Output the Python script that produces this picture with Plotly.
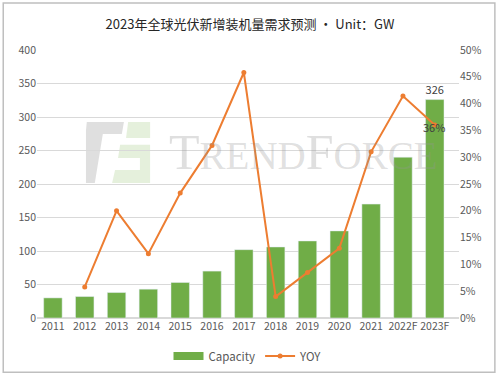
import plotly.graph_objects as go

years = ["2011", "2012", "2013", "2014", "2015", "2016", "2017", "2018", "2019", "2020", "2021", "2022F", "2023F"]
capacity = [30, 32, 38, 43, 53, 70, 102, 106, 115, 130, 170, 240, 326]
yoy_years = ["2012", "2013", "2014", "2015", "2016", "2017", "2018", "2019", "2020", "2021", "2022F", "2023F"]
yoy = [5.8, 20.0, 12.0, 23.3, 32.2, 45.8, 4.0, 8.5, 13.0, 31.0, 41.4, 36.0]
left_ticks = [0, 50, 100, 150, 200, 250, 300, 350, 400]
right_ticks = [0, 5, 10, 15, 20, 25, 30, 35, 40, 45, 50]

GREEN = "#70AD47"
ORANGE = "#ED7D31"
TXT = "#595959"
FONT = "Noto Sans CJK SC, Noto Sans, sans-serif"

fig = go.Figure()

# watermark (drawn below data)
fig.add_shape(type="path", xref="paper", yref="paper", layer="below",
              path="M 0.118 0.731 L 0.206 0.731 L 0.201 0.687 L 0.156 0.687 L 0.137 0.504 L 0.116 0.504 L 0.116 0.70 Z",
              fillcolor="rgba(140,140,140,0.28)", line_width=0)
fig.add_shape(type="path", xref="paper", yref="paper", layer="below",
              path="M 0.216 0.731 L 0.268 0.731 L 0.268 0.672 L 0.211 0.672 Z",
              fillcolor="rgba(170,205,140,0.3)", line_width=0)
fig.add_shape(type="path", xref="paper", yref="paper", layer="below",
              path="M 0.197 0.646 L 0.268 0.646 L 0.268 0.504 L 0.178 0.504 L 0.185 0.552 L 0.244 0.552 L 0.244 0.597 L 0.192 0.597 Z",
              fillcolor="rgba(170,205,140,0.3)", line_width=0)
fig.add_annotation(xref="paper", yref="paper", x=0.308, y=0.62, xanchor="left", yanchor="middle",
                   text="T<span style='font-size:39px'>REND</span>F<span style='font-size:39px'>ORCE</span>",
                   showarrow=False,
                   font=dict(size=50, color="rgba(150,150,150,0.3)", family="Liberation Serif, DejaVu Serif, serif"))

fig.add_trace(go.Bar(
    x=years, y=capacity, name="Capacity", marker_color=GREEN, width=0.58, showlegend=False,
    text=["" for _ in capacity[:-1]] + [str(capacity[-1])], textposition="outside",
    textfont=dict(size=11, color="#404040"), cliponaxis=False,
))
# legend entry for the bars (wide swatch like the reference)
fig.add_trace(go.Scatter(
    x=[None], y=[None], name="Capacity", mode="lines",
    line=dict(color=GREEN, width=8),
))
fig.add_trace(go.Scatter(
    x=yoy_years, y=yoy, name="YOY", mode="lines+markers", yaxis="y2",
    line=dict(color=ORANGE, width=2), marker=dict(size=5, color=ORANGE),
))
fig.add_annotation(x=yoy_years[-1], y=yoy[-1], yref="y2", text=f"{yoy[-1]:.0f}%",
                   showarrow=False, yshift=-2, xshift=-1,
                   font=dict(size=11, color="#404040", family=FONT))

# outer border
fig.add_shape(type="rect", xref="paper", yref="paper", x0=-0.08, x1=1.085, y0=-0.202, y1=1.175,
              line=dict(color="#BFBFBF", width=1.5), fillcolor="rgba(0,0,0,0)")

fig.update_layout(
    width=500, height=376, autosize=False,
    margin=dict(l=37, r=41, t=50, b=58, autoexpand=False),
    paper_bgcolor="white", plot_bgcolor="white",
    title=dict(text="2023年全球光伏新增装机量需求预测 · Unit：GW", x=0.5, xanchor="center",
               yref="container", y=0.935, yanchor="middle",
               font=dict(size=13, color="#262626", family=FONT)),
    font=dict(family=FONT, size=11, color=TXT),
    xaxis=dict(type="category", categoryarray=years, showgrid=False, showline=False, ticks="",
               tickangle=0, automargin=False, tickfont=dict(size=10.5, color=TXT)),
    yaxis=dict(range=[0, 400], tickvals=left_ticks, showgrid=True, gridcolor="#D9D9D9", gridwidth=1,
               zeroline=True, zerolinecolor="#D9D9D9", showline=False, ticks="", automargin=False,
               tickfont=dict(size=10.5, color=TXT)),
    yaxis2=dict(range=[0, 50], tickvals=right_ticks, ticktext=[f"{v}%" for v in right_ticks],
                overlaying="y", side="right", showgrid=False, zeroline=False, showline=False,
                automargin=False, tickfont=dict(size=10.5, color=TXT)),
    legend=dict(orientation="h", x=0.5, xanchor="center", yref="container", y=0.053, yanchor="middle",
                font=dict(size=11.5, color=TXT), itemwidth=30, bgcolor="rgba(0,0,0,0)"),
    bargap=0.42,
)
fig.write_html("out.html", config={"displayModeBar": False},
               post_script="document.body.style.margin='0px';document.body.style.overflow='hidden';")
